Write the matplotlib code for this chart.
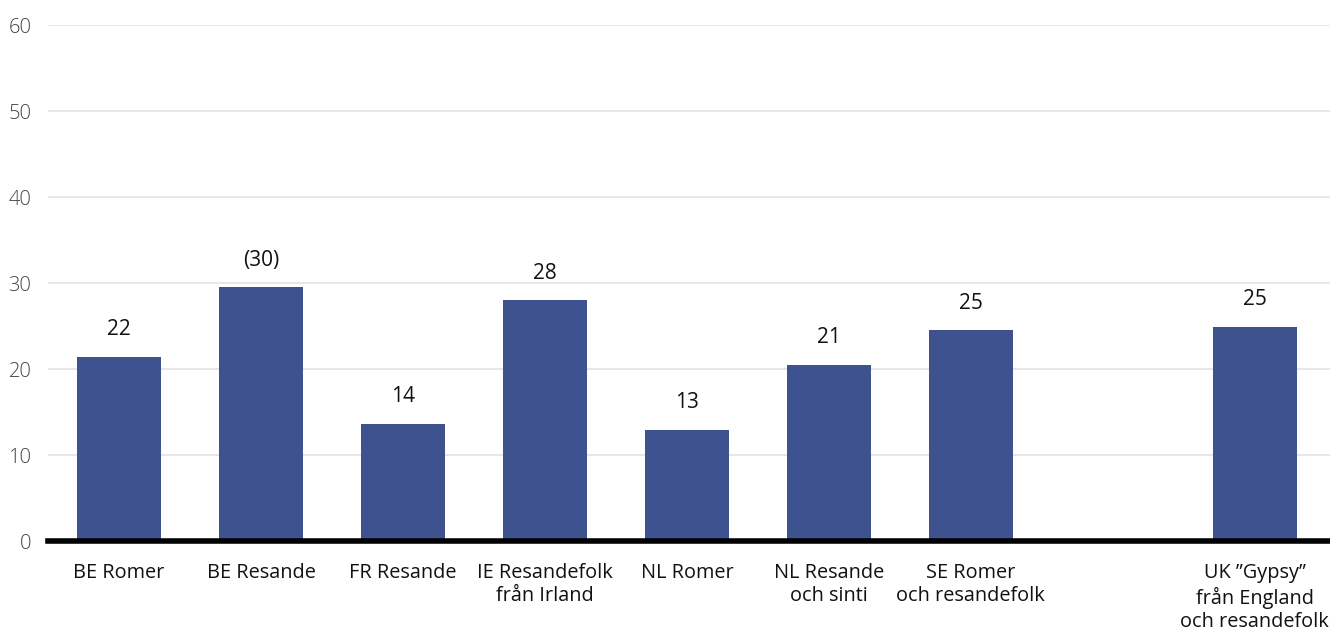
import matplotlib.pyplot as plt

# Data
categories = ['BE Romer', 'BE Resande', 'FR Resande', 'IE Resandefolk\nfrån Irland',
              'NL Romer', 'NL Resande\noch sinti', 'SE Romer\noch resandefolk',
              'UK \u201dGypsy\u201d\nfrån England\noch resandefolk']
positions = [0, 1, 2, 3, 4, 5, 6, 8]
values = [21.4, 29.5, 13.6, 28.0, 12.9, 20.5, 24.5, 24.9]
value_labels = ['22', '(30)', '14', '28', '13', '21', '25', '25']
y_ticks = [0, 10, 20, 30, 40, 50, 60]

BAR_COLOR = '#3e5290'

plt.rcParams['font.family'] = ['Open Sans', 'DejaVu Sans']

fig = plt.figure(figsize=(13.3, 6.33), dpi=100)
ax = fig.add_axes([0.0361, 0.1453, 0.9639, 0.8152])

ax.bar(positions, values, width=0.59, color=BAR_COLOR, zorder=2)

for x, v, lab in zip(positions, values, value_labels):
    ax.annotate(lab, (x, v), xytext=(0, 12), textcoords='offset points',
                ha='center', va='bottom', fontsize=15, color='#111111')

ax.set_ylim(0, 60)
ax.set_xlim(-0.5, 8.53)
ax.set_yticks(y_ticks)
ax.set_yticklabels([str(t) for t in y_ticks], fontsize=14.5, color='#444444', fontweight='light')
ax.yaxis.grid(True, color='#e3e3e3', linewidth=1.2, zorder=0)
ax.tick_params(axis='y', length=0, pad=12)

ax.set_xticks(positions)
ax.set_xticklabels(categories, fontsize=14.3, color='#111111', linespacing=1.2)
ax.tick_params(axis='x', length=0, pad=16)

for side in ['top', 'right', 'left']:
    ax.spines[side].set_visible(False)
ax.spines['bottom'].set_linewidth(4)
ax.spines['bottom'].set_color('black')
ax.spines['bottom'].set_zorder(3)

fig.savefig('out.png', dpi=100)
